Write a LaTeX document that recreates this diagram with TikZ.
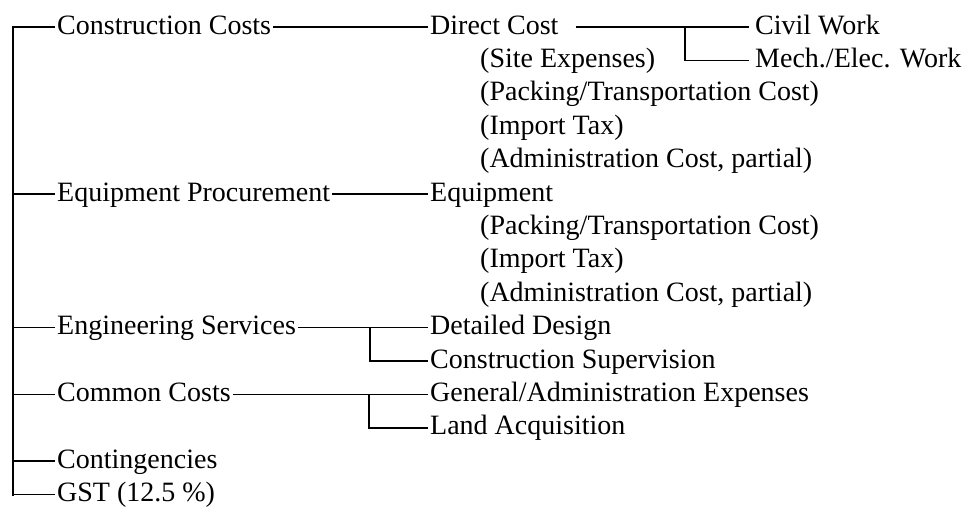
\documentclass[tikz,border=0pt]{standalone}
\usepackage{fontspec}
\setmainfont{Liberation Serif}

\tikzset{
  item/.style={anchor=west, inner sep=2pt, text height=20pt, text depth=6pt},
  link/.style={line width=1.6pt},
  spine/.style={line width=2.2pt, line cap=rect}
}

\begin{document}
\begin{tikzpicture}[x=1pt, y=-1pt, font=\fontsize{28pt}{33pt}\selectfont]
\useasboundingbox (0,0) rectangle (963,509);
% Branch points
\coordinate (trunk) at (13,0);
\coordinate (splitdc) at (685,0);
\coordinate (splites) at (370,0);
\coordinate (splitcc) at (369,0);
% Main items
\node[item] (cc) at (55,27) {Construction Costs};
\node[item] (ep) at (55,194) {Equipment Procurement};
\node[item] (es) at (55,327.6) {Engineering Services};
\node[item] (cmc) at (55,394.4) {Common Costs};
\node[item] (cont) at (55,461.2) {Contingencies};
\node[item] (gst) at (55,494.6) {GST (12.5 \%)};
% Construction costs
\node[item] (dc) at (428,27) {Direct Cost};
\node[item] (site) at (478,60.4) {(Site Expenses)};
\node[item] (pack1) at (478,93.8) {(Packing/Transportation Cost)};
\node[item] (tax1) at (478,127.2) {(Import Tax)};
\node[item] (adm1) at (478,160.6) {(Administration Cost, partial)};
\node[item] (civil) at (753,27) {Civil Work};
\node[item] (mech) at (753,60.4) {Mech./Elec. Work};
% Equipment
\node[item] (eq) at (428,194) {Equipment};
\node[item] (pack2) at (478,227.4) {(Packing/Transportation Cost)};
\node[item] (tax2) at (478,260.8) {(Import Tax)};
\node[item] (adm2) at (478,294.2) {(Administration Cost, partial)};
% Engineering services
\node[item] (dd) at (428,327.6) {Detailed Design};
\node[item] (csu) at (428,361) {Construction Supervision};
% Common costs
\node[item] (ga) at (428,394.4) {General/Administration Expenses};
\node[item] (land) at (428,427.8) {Land Acquisition};
% Trunk
\draw[spine] (cc.west -| trunk) -- (gst.west -| trunk);
\foreach \n in {cc,ep,es,cmc,cont,gst}
  \draw[link] (\n.west -| trunk) -- (\n.west);
% Second level
\draw[link] (cc.east) -- (dc.west);
\draw[link] (ep.east) -- (eq.west);
\draw[link] (es.east) -- (dd.west);
\draw[link] (cmc.east) -- (ga.west);
% Third level
\draw[link, shorten <=15pt, shorten >=4pt] (dc.east) -- (civil.west);
\draw[link, shorten >=4pt] (dc.east -| splitdc) |- (mech.west);
\draw[link] (dd.west -| splites) |- (csu.west);
\draw[link] (ga.west -| splitcc) |- (land.west);
\end{tikzpicture}
\end{document}
